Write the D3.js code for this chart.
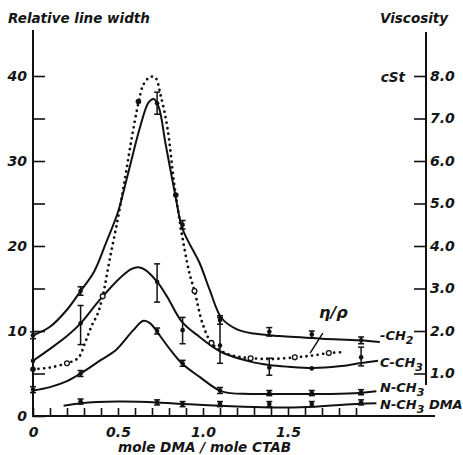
<!DOCTYPE html>
<html>
<head>
<meta charset="utf-8">
<script src="https://cdn.jsdelivr.net/npm/d3@7"></script>
<style>
  body { margin: 0; background: #fff; }
  text { font-family: "DejaVu Sans", sans-serif; font-weight: bold; font-style: italic; fill: #151515; }
</style>
</head>
<body>
<div id="chart"></div>
<script>
// measured points, x = mole DMA / mole CTAB
const xMeas = [0, 0.28, 0.73, 0.88, 1.1, 1.39, 1.64, 1.93];
const ch2Vals = [9.5, 14.7, 36.8, 22.5, 11.3, 9.9, 9.6, 8.9];
const ch2Err = [0.4, 0.5, 1.3, 0.5, 0.5, 0.5, 0.4, 0.4];
const cch3Vals = [6.5, 10.9, 15.8, 10.1, 8.3, 5.7, 5.6, 6.9];
const cch3Lo = [6.5, 8.4, 13.4, 8.5, 6.2, 4.8, 5.6, 5.9];
const cch3Hi = [6.5, 13.0, 17.9, 11.6, 11.6, 6.8, 5.6, 8.1];
const nch3Vals = [3.1, 5.0, 10.0, 6.2, 3.0, 2.7, 2.7, 2.8];
const nch3Err = [0.35, 0.35, 0.35, 0.35, 0.35, 0.3, 0.3, 0.3];
const dmaVals = [null, 1.7, 1.6, 1.4, 1.4, 1.4, 1.4, 1.6];
const dmaErr = [0, 0.3, 0.3, 0.3, 0.3, 0.3, 0.3, 0.3];

// fitted curves (relative line width)
const ch2CurveX = [0, 0.1, 0.2, 0.28, 0.36, 0.43, 0.5, 0.56, 0.63, 0.68, 0.71, 0.74, 0.78, 0.835, 0.88, 0.98, 1.04, 1.11, 1.2, 1.3, 1.45, 1.7, 1.92, 2.04];
const ch2CurveY = [9.5, 10.5, 12.5, 14.7, 17.0, 20.4, 24.0, 28.6, 34, 36.9, 37.3, 36.3, 32, 26.2, 22, 18, 14.8, 11.5, 10.2, 9.7, 9.4, 9.1, 8.9, 8.7];
const cch3CurveX = [0, 0.1, 0.2, 0.28, 0.39, 0.51, 0.58, 0.62, 0.66, 0.73, 0.79, 0.875, 0.98, 1.11, 1.28, 1.39, 1.5, 1.65, 1.8, 1.92, 2.03];
const cch3CurveY = [6.5, 7.9, 9.4, 10.9, 13.6, 16.2, 17.3, 17.5, 17.2, 15.8, 14, 11.1, 9.3, 7.5, 6.4, 6.0, 5.8, 5.65, 5.85, 6.2, 6.5];
const nch3CurveX = [0, 0.1, 0.2, 0.28, 0.4, 0.49, 0.59, 0.65, 0.69, 0.73, 0.8, 0.875, 0.98, 1.11, 1.28, 1.5, 1.75, 1.92, 2.02];
const nch3CurveY = [3.0, 3.4, 4.1, 5.0, 6.6, 7.8, 10.1, 11.2, 10.9, 9.9, 8.0, 6.2, 4.6, 2.9, 2.6, 2.6, 2.6, 2.7, 2.9];
const dmaCurveX = [0.18, 0.28, 0.5, 0.73, 0.88, 1.1, 1.39, 1.65, 1.92, 2.02];
const dmaCurveY = [1.2, 1.5, 1.7, 1.6, 1.4, 1.2, 1.0, 1.1, 1.45, 1.5];

// viscosity / density (cSt), dotted curve
const etaX = [0, 0.1, 0.2, 0.24, 0.27, 0.31, 0.345, 0.38, 0.41, 0.45, 0.5, 0.54, 0.58, 0.62, 0.65, 0.69, 0.72, 0.75, 0.79, 0.83, 0.865, 0.88, 0.92, 0.95, 1.0, 1.05, 1.12, 1.2, 1.28, 1.4, 1.54, 1.64, 1.74, 1.82];
const etaY = [1.10, 1.14, 1.24, 1.30, 1.38, 1.76, 2.12, 2.40, 2.82, 3.66, 4.66, 5.56, 6.52, 7.36, 7.8, 7.98, 7.96, 7.56, 6.8, 5.48, 4.54, 4.18, 3.36, 2.94, 2.14, 1.72, 1.5, 1.4, 1.36, 1.34, 1.38, 1.42, 1.48, 1.5];
const etaOpenX = [0.2, 0.41, 0.95, 1.05, 1.28, 1.54, 1.74];
const etaOpenY = [1.24, 2.82, 2.94, 1.72, 1.36, 1.38, 1.48];
const etaFillX = [0, 0.62, 0.84];
const etaFillY = [1.1, 7.4, 5.2];

// axis ticks
const leftTicks = [0, 5, 10, 15, 20, 25, 30, 35, 40];
const rightTicks = [1, 2, 3, 4, 5, 6, 7, 8];
const bottomTicks = d3.range(0, 20).map(d => d / 10);
const bottomLabels = [0, 0.5, 1.0, 1.5];

// series labels: [text, subscript, tail, anchor value]
const seriesLabels = [
  ["-CH", "2", "", 8.94],
  ["C-CH", "3", "", 5.76],
  ["N-CH", "3", "", 2.82],
  ["N-CH", "3", " DMA", 0.82]
];

const W = 463, H = 455;
const svg = d3.select("#chart").append("svg")
  .attr("width", W).attr("height", H);

const x = d3.scaleLinear().domain([0, 2]).range([33, 373]);
const y = d3.scaleLinear().domain([0, 40]).range([416, 76]);
const yV = d3.scaleLinear().domain([0, 8]).range([416, 76]);
const rightX = 426;

// axes
svg.append("line").attr("x1", x(0)).attr("x2", x(0)).attr("y1", y(0)).attr("y2", 30)
  .attr("stroke", "#111").attr("stroke-width", 2);
svg.append("line").attr("x1", x(0) - 1).attr("x2", 435).attr("y1", y(0)).attr("y2", y(0))
  .attr("stroke", "#111").attr("stroke-width", 2);
svg.append("line").attr("x1", rightX).attr("x2", rightX).attr("y1", yV(0.73)).attr("y2", 32)
  .attr("stroke", "#111").attr("stroke-width", 2);

const gl = svg.append("g").attr("transform", `translate(${x(0)},0)`)
  .call(d3.axisLeft(y).tickValues(leftTicks).tickSize(-12).tickSizeOuter(0).tickPadding(6)
    .tickFormat(d => d % 10 === 0 ? d : ""));
gl.select(".domain").remove();

const gb = svg.append("g").attr("transform", `translate(0,${y(0)})`)
  .call(d3.axisBottom(x).tickValues(bottomTicks).tickSize(-8).tickSizeOuter(0).tickPadding(11)
    .tickFormat(d => bottomLabels.some(b => Math.abs(b - d) < 1e-6) ? (d === 0 ? "0" : d3.format(".1f")(d)) : ""));
gb.select(".domain").remove();

const gr = svg.append("g").attr("transform", `translate(${rightX},0)`)
  .call(d3.axisRight(yV).tickValues(rightTicks).tickSize(-12).tickSizeOuter(0).tickPadding(4)
    .tickFormat(d3.format(".1f")));
gr.select(".domain").remove();

svg.selectAll(".tick line").attr("stroke", "#111").attr("stroke-width", 1.6);
svg.selectAll(".tick text").style("font-size", "14px").style("font-family", null)
  .attr("fill", "#151515");

// titles
svg.append("text").attr("x", 8).attr("y", 23).style("font-size", "13.5px").text("Relative line width");
svg.append("text").attr("x", 380).attr("y", 23).style("font-size", "13.5px").text("Viscosity");
svg.append("text").attr("x", 405).attr("y", yV(8) + 6).attr("text-anchor", "end")
  .style("font-size", "13.5px").text("cSt");
svg.append("text").attr("x", 118).attr("y", 452).style("font-size", "13.6px").text("mole DMA / mole CTAB");

// curves
const line = d3.line().curve(d3.curveCatmullRom.alpha(0.5));
function curve(xs, ys, sy) {
  return line(xs.map((d, i) => [x(d), sy(ys[i])]));
}
[[ch2CurveX, ch2CurveY], [cch3CurveX, cch3CurveY], [nch3CurveX, nch3CurveY], [dmaCurveX, dmaCurveY]]
  .forEach(([xs, ys]) => {
    svg.append("path").attr("d", curve(xs, ys, y))
      .attr("fill", "none").attr("stroke", "#111").attr("stroke-width", 2);
  });

svg.append("path").attr("d", curve(etaX, etaY, yV))
  .attr("fill", "none").attr("stroke", "#111").attr("stroke-width", 2.8)
  .attr("stroke-linecap", "round").attr("stroke-dasharray", "0 5.6");

// error-bar markers
function markers(vals, lo, hi) {
  const g = svg.append("g").attr("stroke", "#111").attr("fill", "#111");
  vals.forEach((v, i) => {
    if (v == null) return;
    const cx = x(xMeas[i]);
    const y1 = y(lo[i]), y2 = y(hi[i]);
    if (Math.abs(y1 - y2) > 0.5) {
      g.append("line").attr("x1", cx).attr("x2", cx).attr("y1", y1).attr("y2", y2).attr("stroke-width", 1.5);
      [y1, y2].forEach(yy => g.append("line").attr("x1", cx - 3).attr("x2", cx + 3)
        .attr("y1", yy).attr("y2", yy).attr("stroke-width", 1.5));
    }
    g.append("circle").attr("cx", cx).attr("cy", y(v)).attr("r", 2.3).attr("stroke", "none");
  });
}
markers(ch2Vals, ch2Vals.map((v, i) => v - ch2Err[i]), ch2Vals.map((v, i) => v + ch2Err[i]));
markers(cch3Vals, cch3Lo, cch3Hi);
markers(nch3Vals, nch3Vals.map((v, i) => v - nch3Err[i]), nch3Vals.map((v, i) => v + nch3Err[i]));
markers(dmaVals, dmaVals.map((v, i) => v - dmaErr[i]), dmaVals.map((v, i) => v + dmaErr[i]));

// viscosity markers
svg.selectAll("circle.open").data(etaOpenX).join("circle").attr("class", "open")
  .attr("cx", d => x(d)).attr("cy", (d, i) => yV(etaOpenY[i])).attr("r", 2.4)
  .attr("fill", "#fff").attr("stroke", "#111").attr("stroke-width", 1.3);
svg.selectAll("circle.fill").data(etaFillX).join("circle").attr("class", "fill")
  .attr("cx", d => x(d)).attr("cy", (d, i) => yV(etaFillY[i])).attr("r", 2.8)
  .attr("fill", "#111");

// eta/rho label with pointer
svg.append("line").attr("x1", x(1.705)).attr("y1", yV(1.95)).attr("x2", x(1.63)).attr("y2", yV(1.48))
  .attr("stroke", "#111").attr("stroke-width", 1.5);
svg.append("text").attr("x", 319).attr("y", 318).style("font-size", "16px").text("η/ρ");

// series labels
seriesLabels.forEach(([t, sub, tail, v]) => {
  const tx = svg.append("text").attr("x", 380).attr("y", y(v)).style("font-size", "13px");
  tx.append("tspan").text(t);
  tx.append("tspan").attr("dy", 4).style("font-size", "11px").text(sub);
  if (tail) tx.append("tspan").attr("dy", -4).style("white-space", "pre").text(tail);
});
</script>
</body>
</html>
